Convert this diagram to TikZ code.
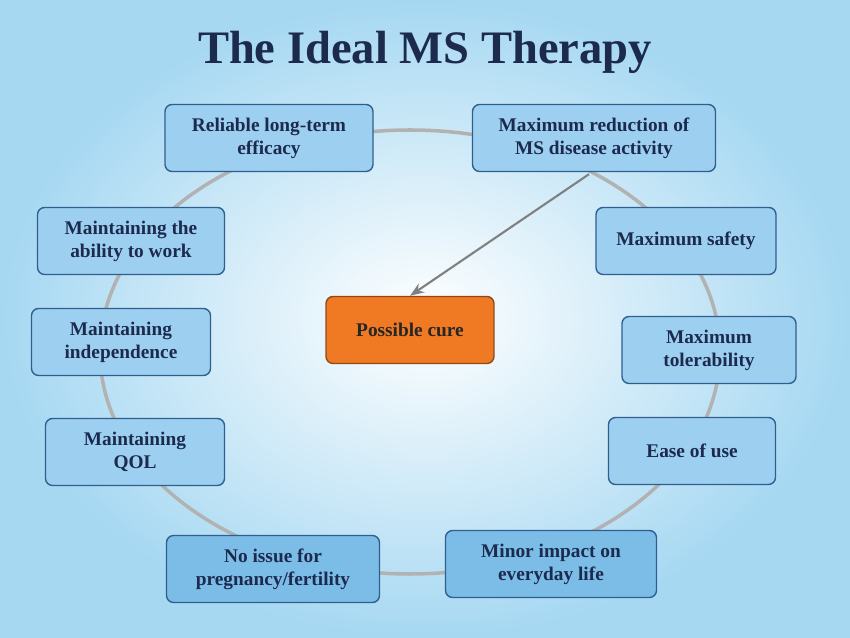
\documentclass[tikz,border=0pt]{standalone}
\usepackage{fontspec}
\setmainfont{Liberation Serif}
\usetikzlibrary{arrows.meta,shadings}
\definecolor{boxfill}{HTML}{9DD0F0}
\definecolor{lowfill}{HTML}{7CBDE8}
\definecolor{boxline}{HTML}{2F5F8F}
\definecolor{navy}{HTML}{1C2A4E}
\definecolor{cure}{HTML}{F07A24}
\definecolor{sky}{HTML}{A6D8F2}
\tikzset{
  goal/.style = {draw=boxline, thick, fill=boxfill, rounded corners=4pt,
    align=center, font=\fontsize{11}{13}\selectfont\bfseries, text=navy,
    minimum height=1.34cm, inner sep=2pt},% objectif
  cure/.style = {goal, fill=cure, draw=cure!60!black, text=black!85}% centre
}
\begin{document}
\begin{tikzpicture}[x=0.02cm,y=-0.02cm]
\useasboundingbox (0,0) rectangle (850,638);
\shade[inner color=white, outer color=sky] (0,0) rectangle (850,638);
\node (title) at (425,52) {\fontsize{26.5}{30}\selectfont\bfseries\color{navy} The Ideal MS Therapy};
\draw[gray!60, line width=2pt] (410,352) ellipse [x radius=310, y radius=222];

\node [goal, minimum width=4.16cm] (eff) at (269,138) {Reliable long-term\\efficacy};
\node [goal, minimum width=4.86cm] (red) at (594,138) {Maximum reduction of\\MS disease activity};
\node [goal, minimum width=3.74cm] (work) at (131,241) {Maintaining the\\ability to work};
\node [goal, minimum width=3.6cm] (safe) at (686,241) {Maximum safety};
\node [goal, minimum width=3.58cm] (indep) at (121,342) {Maintaining\\independence};
\node [cure, minimum width=3.36cm] (cur) at (410,330) {Possible cure};
\node [goal, minimum width=3.48cm] (tol) at (709,350) {Maximum\\tolerability};
\node [goal, minimum width=3.58cm] (qol) at (135,452) {Maintaining\\QOL};
\node [goal, minimum width=3.34cm] (ease) at (692,451) {Ease of use};
\node [goal, fill=lowfill, minimum width=4.26cm] (preg) at (273,569) {No issue for\\pregnancy/fertility};
\node [goal, fill=lowfill, minimum width=4.22cm] (life) at (551,564) {Minor impact on\\everyday life};

\draw[-{Stealth[length=8pt]}, gray, line width=1.2pt] (red.south) ++(-5,2) coordinate (a) -- (cur.north);
\end{tikzpicture}
\end{document}
